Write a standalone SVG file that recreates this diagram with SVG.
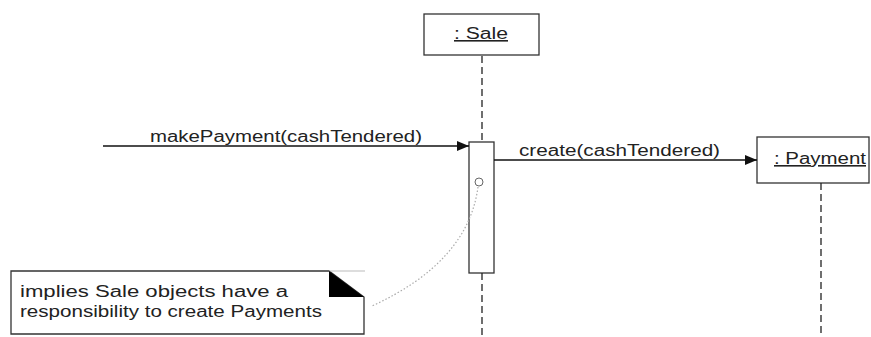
<svg xmlns="http://www.w3.org/2000/svg" width="871" height="337" viewBox="0 0 871 337">
<defs>
<style>
.box{fill:#fff;stroke:#333;stroke-width:1.3}
.life{stroke:#222;stroke-width:1.3;stroke-dasharray:7 4;fill:none}
.msg{stroke:#111;stroke-width:1.3;fill:none}
.t{font-family:"Liberation Sans",Arial,sans-serif;font-size:16px;fill:#222}
.u{text-decoration:underline}
</style>
<marker id="ah" viewBox="0 0 12 10" refX="12" refY="5" markerWidth="12" markerHeight="10" markerUnits="userSpaceOnUse" orient="auto">
<path d="M0,0 L12,5 L0,10 Z" fill="#111"/>
</marker>
</defs>
<rect width="871" height="337" fill="#fff"/>
<g id="sale">
<rect class="box" x="424" y="14" width="115" height="41"/>
<text class="t u" x="454" y="39" textLength="54" lengthAdjust="spacingAndGlyphs">: Sale</text>
</g>
<g id="activation">
<rect class="box" x="469" y="142" width="25" height="131"/>
<circle cx="479" cy="182" r="4" fill="#fff" stroke="#666" stroke-width="1"/>
</g>
<g id="payment">
<rect class="box" x="757" y="137" width="112" height="46"/>
<text class="t u" x="774" y="164" textLength="92" lengthAdjust="spacingAndGlyphs">: Payment</text>
</g>
<g id="note">
<path d="M11,271 H329 L364,297 V334 H11 Z" fill="#fff" stroke="#333" stroke-width="1.3"/>
<line x1="329" y1="271" x2="365" y2="271" stroke="#bbb" stroke-width="1"/>
<path d="M329,271 L364,297 H329 Z" fill="#000"/>
<text class="t" x="20" y="297" textLength="268" lengthAdjust="spacingAndGlyphs">implies Sale objects have a</text>
<text class="t" x="20" y="317" textLength="302" lengthAdjust="spacingAndGlyphs">responsibility to create Payments</text>
</g>
<g id="connectors">
<line class="life" x1="482" y1="56" x2="482" y2="142"/>
<line class="life" x1="482" y1="273" x2="482" y2="337"/>
<line class="life" x1="821" y1="183" x2="821" y2="337"/>
<line class="msg" x1="103" y1="146" x2="469" y2="146" marker-end="url(#ah)"/>
<text class="t" x="150" y="142" textLength="272" lengthAdjust="spacingAndGlyphs">makePayment(cashTendered)</text>
<line class="msg" x1="494" y1="160" x2="757" y2="160" marker-end="url(#ah)"/>
<text class="t" x="519" y="156" textLength="201" lengthAdjust="spacingAndGlyphs">create(cashTendered)</text>
<path d="M478,187 Q468,262 372,306" fill="none" stroke="#aaa" stroke-width="1.2" stroke-dasharray="1.5 2"/>
</g>
</svg>
